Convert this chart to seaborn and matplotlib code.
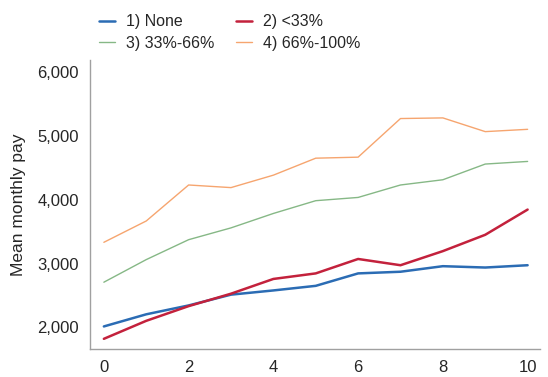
import numpy as np
import pandas as pd
import matplotlib
matplotlib.use("Agg")
import matplotlib.pyplot as plt
import seaborn as sns

years = list(range(11))
groups = ["1) None", "2) <33%", "3) 33%-66%", "4) 66%-100%"]
pay_none = [2015, 2205, 2344, 2513, 2579, 2651, 2846, 2872, 2959, 2938, 2974]
pay_lt33 = [1821, 2103, 2333, 2528, 2759, 2846, 3072, 2974, 3195, 3451, 3846]
pay_33_66 = [2708, 3062, 3374, 3559, 3785, 3985, 4036, 4231, 4313, 4559, 4600]
pay_66_100 = [3333, 3667, 4231, 4190, 4385, 4651, 4667, 5272, 5282, 5067, 5103]

colors = ["#2b6cb4", "#c3213c", "#86b886", "#f6a56f"]
widths = [1.8, 1.8, 1.0, 1.0]

df = pd.DataFrame({
    "year": years * 4,
    "pay": pay_none + pay_lt33 + pay_33_66 + pay_66_100,
    "group": [g for g in groups for _ in years],
})

sns.set_style("white")
plt.rcParams["font.family"] = ["Liberation Sans", "DejaVu Sans"]

fig = plt.figure(figsize=(5.48, 3.77), dpi=100)
ax = fig.add_axes([0.164, 0.074, 0.822, 0.767])

sns.lineplot(data=df, x="year", y="pay", hue="group", palette=colors,
             legend=False, ax=ax)
for line, lw in zip(ax.lines, widths):
    line.set_linewidth(lw)

ax.set_xlim(-0.33, 10.3)
ax.set_ylim(1660, 6190)
ax.set_xticks([0, 2, 4, 6, 8, 10])
ax.set_yticks([2000, 3000, 4000, 5000, 6000])
ax.yaxis.set_major_formatter(matplotlib.ticker.FuncFormatter(lambda v, p: f"{int(v):,}"))
ax.tick_params(labelsize=12, length=0, pad=8)
ax.set_xlabel("")
ax.set_ylabel("Mean monthly pay", fontsize=12.5, labelpad=8)
for side in ["top", "right"]:
    ax.spines[side].set_visible(False)
for side in ["left", "bottom"]:
    ax.spines[side].set_color("#a0a0a0")
    ax.spines[side].set_linewidth(1.0)

# matplotlib fills legend columns first, so reorder for row-wise layout
order = [0, 2, 1, 3]
handles = [plt.Line2D([], [], color=colors[i], lw=widths[i]) for i in order]
labels = [groups[i] for i in order]
fig.legend(handles, labels, loc="upper left", bbox_to_anchor=(0.155, 1.0),
           ncol=2, frameon=False, fontsize=11.5, handlelength=1.0,
           handletextpad=0.7, columnspacing=1.3, labelspacing=0.4)

fig.savefig("out.png", dpi=100)
